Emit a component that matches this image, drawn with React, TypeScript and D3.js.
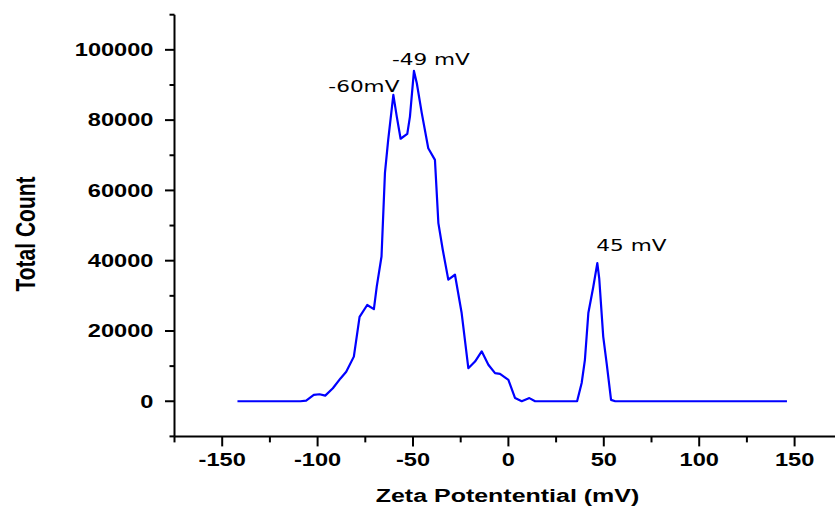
import { useMemo } from "react";
import * as d3 from "d3";

const WIDTH = 835;
const HEIGHT = 508;
const STRETCH = 1.35; // the original picture is stretched horizontally

const zeta = [
  -142, -109, -106, -102, -99, -96, -92, -88, -85, -81, -78, -74, -70.5, -69, -66.5,
  -64.7, -63, -60.3, -58.5, -56.5, -53, -51.6, -49.5, -48, -45.4, -42, -38.5, -36.7,
  -34.4, -31.5, -28, -24.5, -21, -17.5, -14, -10.5, -7, -4.4, 0, 3.5, 7, 11, 14, 36,
  38.4, 40.1, 41.9, 44.5, 46.6, 47.6, 49.7, 51.5, 53.8, 56, 146,
];
const counts = [
  0, 0, 200, 1800, 2000, 1600, 3700, 6500, 8400, 12700, 24000, 27400, 26200, 32600,
  41200, 65000, 74400, 87200, 81000, 74700, 76100, 81000, 94000, 90500, 82000, 72000,
  68700, 50700, 43100, 34600, 36000, 25100, 9400, 11300, 14200, 10400, 8000, 7800,
  6100, 900, 0, 900, 0, 0, 5200, 11800, 25100, 32600, 39300, 35000, 18400, 10800, 400,
  0, 0,
];

const xTicks = [-150, -100, -50, 0, 50, 100, 150];
const xMinorTicks = [-175, -125, -75, -25, 25, 75, 125, 175];
const yTicks = [0, 20000, 40000, 60000, 80000, 100000];
const yMinorTicks = [-10000, 10000, 30000, 50000, 70000, 90000, 110000];

const peakLabels = [
  { text: "-60mV", value: -60.3, count: 87200 },
  { text: "-49 mV", value: -49.5, count: 94000 },
  { text: "45 mV", value: 46.6, count: 39300 },
];

const AXIS_FONT = "Arial, 'Liberation Sans', sans-serif";

export default function App() {
  const x = useMemo(
    () => d3.scaleLinear().domain([-175, 175]).range([174.5, 842.3]),
    []
  );
  const y = useMemo(
    () => d3.scaleLinear().domain([-10000, 110000]).range([436.4, 14.7]),
    []
  );

  const points = zeta.map((z, i) => [z, counts[i]] as [number, number]);
  const line = d3
    .line<[number, number]>()
    .x((d) => x(d[0]))
    .y((d) => y(d[1]));

  const x0 = x(-175);
  const yBase = y(-10000);

  // label offsets relative to each peak (peak -> start of text, baseline)
  const labelPos = (p: { value: number; count: number; text: string }) => {
    if (p.text === "-60mV") return { lx: x(p.value) - 65, ly: y(p.count) - 3 };
    if (p.text === "-49 mV") return { lx: x(p.value) - 22, ly: y(p.count) - 6 };
    return { lx: x(p.value) - 1, ly: y(p.count) - 12 };
  };

  return (
    <div style={{ position: "fixed", left: 0, top: 0 }}>
      <svg width={WIDTH} height={HEIGHT} style={{ display: "block", background: "#fff" }}>
        {/* data line */}
        <path
          d={line(points) ?? ""}
          fill="none"
          stroke="#0000ff"
          strokeWidth={2.2}
          strokeLinejoin="round"
        />

        {/* axes */}
        <line x1={x0} x2={x0} y1={y(110000)} y2={yBase} stroke="#000" strokeWidth={2} />
        <line x1={x0} x2={WIDTH} y1={yBase} y2={yBase} stroke="#000" strokeWidth={2} />

        {yTicks.map((t) => (
          <g key={"y" + t}>
            <line x1={x0 - 9.5} x2={x0} y1={y(t)} y2={y(t)} stroke="#000" strokeWidth={2} />
            <text
              transform={`translate(${x0 - 21},${y(t)}) scale(${STRETCH},1)`}
              dy="0.36em"
              textAnchor="end"
              fontFamily={AXIS_FONT}
              fontWeight="bold"
              fontSize={17.5}
              fill="#000"
            >
              {t}
            </text>
          </g>
        ))}
        {yMinorTicks.map((t) => (
          <line key={"ym" + t} x1={x0 - 5} x2={x0} y1={y(t)} y2={y(t)} stroke="#000" strokeWidth={2} />
        ))}

        {xTicks.map((t) => (
          <g key={"x" + t}>
            <line x1={x(t)} x2={x(t)} y1={yBase} y2={yBase + 10} stroke="#000" strokeWidth={2} />
            <text
              transform={`translate(${x(t)},466) scale(${STRETCH},1)`}
              textAnchor="middle"
              fontFamily={AXIS_FONT}
              fontWeight="bold"
              fontSize={17.5}
              fill="#000"
            >
              {t}
            </text>
          </g>
        ))}
        {xMinorTicks.map((t) => (
          <line key={"xm" + t} x1={x(t)} x2={x(t)} y1={yBase} y2={yBase + 6} stroke="#000" strokeWidth={2} />
        ))}

        {/* axis titles */}
        <text
          transform={`translate(507.5,501.5) scale(${STRETCH},1)`}
          textAnchor="middle"
          fontFamily={AXIS_FONT}
          fontWeight="bold"
          fontSize={18.5}
          fill="#000"
        >
          Zeta Potentential (mV)
        </text>
        <text
          transform={`translate(34.5,234) scale(1.3,1) rotate(-90)`}
          textAnchor="middle"
          fontFamily={AXIS_FONT}
          fontWeight="bold"
          fontSize={21}
          fill="#000"
        >
          Total Count
        </text>

        {/* peak annotations */}
        {peakLabels.map((p) => {
          const { lx, ly } = labelPos(p);
          return (
            <text
              key={p.text}
              transform={`translate(${lx},${ly}) scale(${STRETCH},1)`}
              fontFamily="'DejaVu Sans', Verdana, sans-serif"
              fontSize={16}
              fill="#000"
            >
              {p.text}
            </text>
          );
        })}
      </svg>
    </div>
  );
}
